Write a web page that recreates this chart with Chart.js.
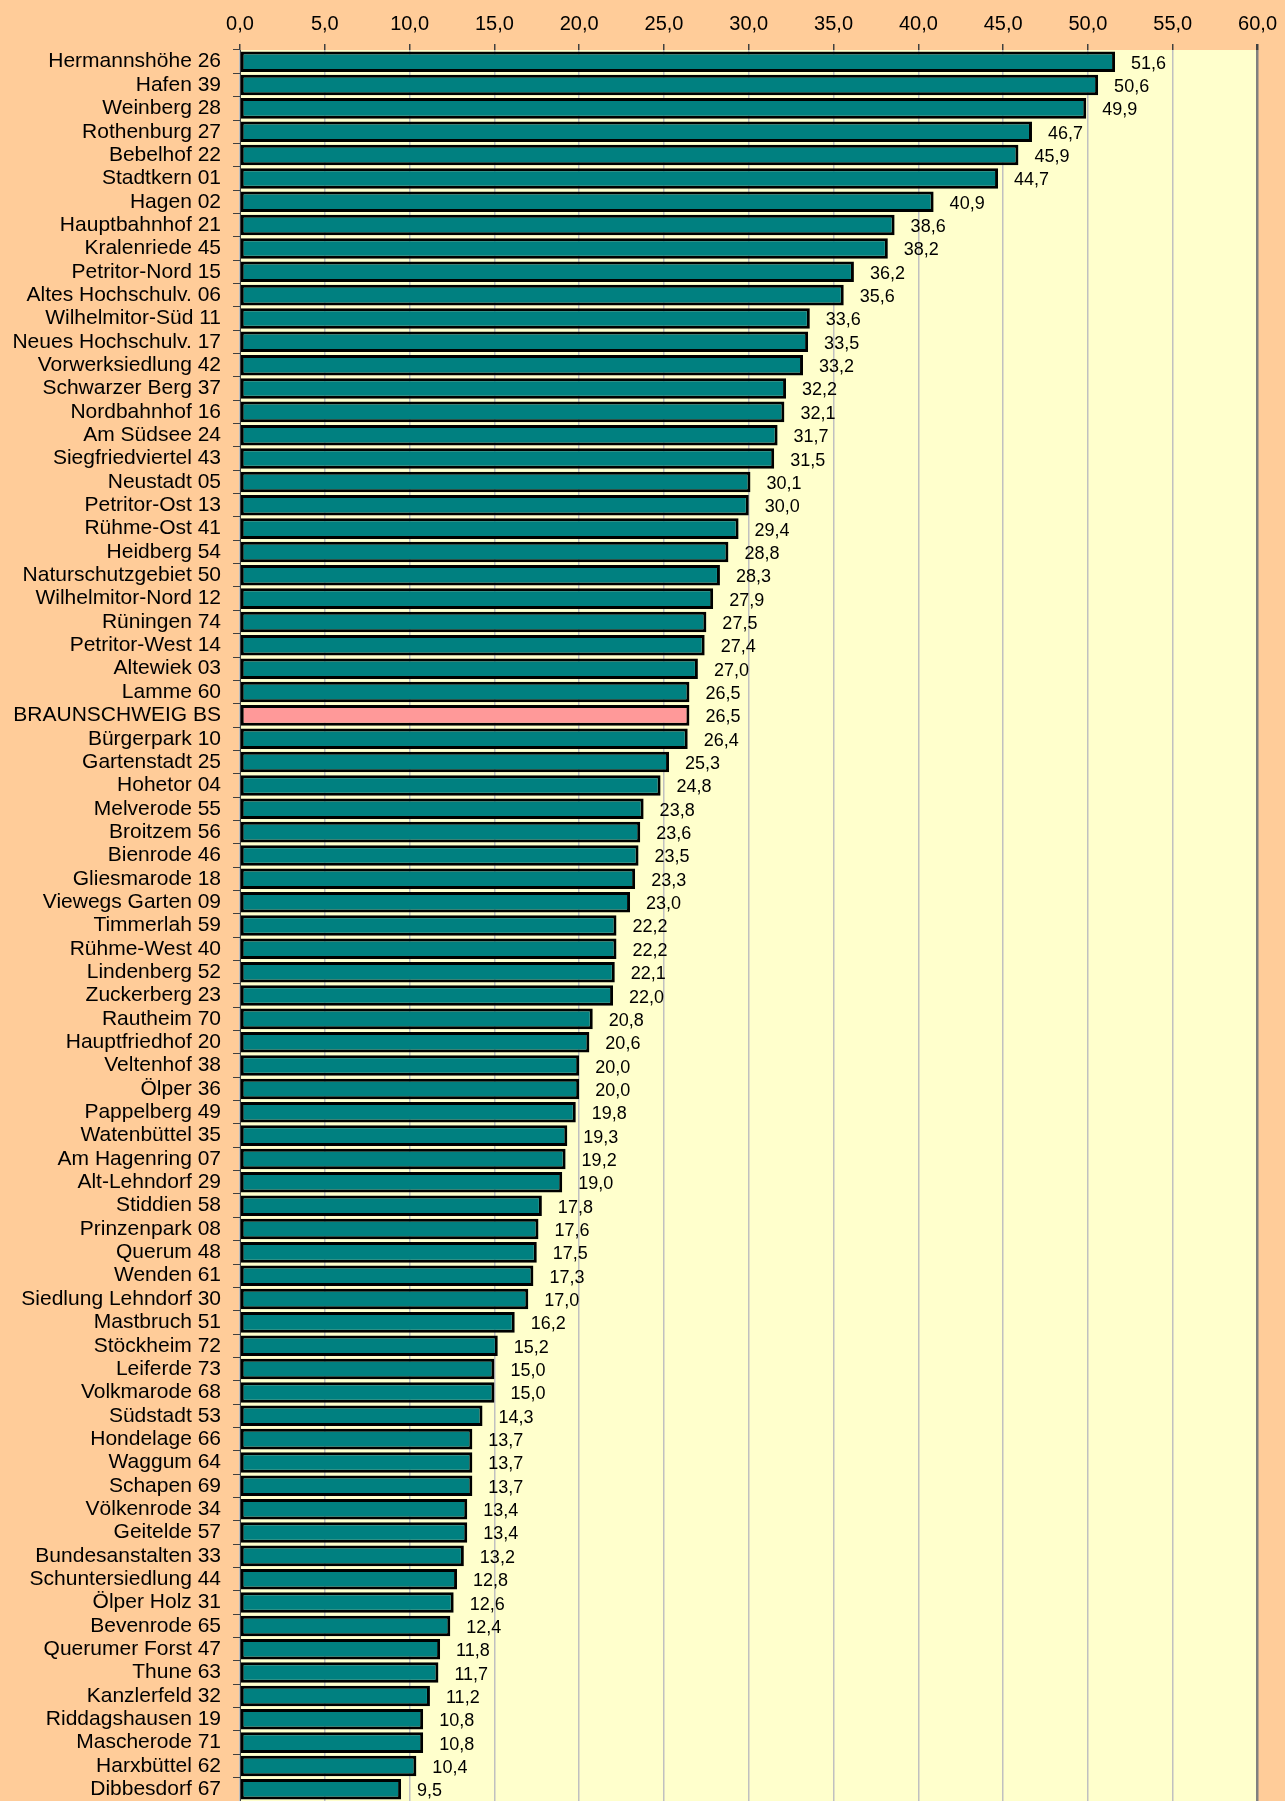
<!DOCTYPE html>
<html>
<head>
<meta charset="utf-8">
<script src="https://cdn.jsdelivr.net/npm/chart.js@4"></script>
<style>
  html, body { margin: 0; padding: 0; background: #FFCC99; overflow: hidden; }
  canvas { display: block; }
</style>
</head>
<body>
<canvas id="chart" width="1285" height="1801"></canvas>
<script>
// Stadtbezirke (Kategorien)
const districts = [
    'Hermannshöhe 26', 'Hafen 39', 'Weinberg 28', 'Rothenburg 27', 'Bebelhof 22',
    'Stadtkern 01', 'Hagen 02', 'Hauptbahnhof 21', 'Kralenriede 45', 'Petritor-Nord 15',
    'Altes Hochschulv. 06', 'Wilhelmitor-Süd 11', 'Neues Hochschulv. 17', 'Vorwerksiedlung 42', 'Schwarzer Berg 37',
    'Nordbahnhof 16', 'Am Südsee 24', 'Siegfriedviertel 43', 'Neustadt 05', 'Petritor-Ost 13',
    'Rühme-Ost 41', 'Heidberg 54', 'Naturschutzgebiet 50', 'Wilhelmitor-Nord 12', 'Rüningen 74',
    'Petritor-West 14', 'Altewiek 03', 'Lamme 60', 'BRAUNSCHWEIG BS', 'Bürgerpark 10',
    'Gartenstadt 25', 'Hohetor 04', 'Melverode 55', 'Broitzem 56', 'Bienrode 46',
    'Gliesmarode 18', 'Viewegs Garten 09', 'Timmerlah 59', 'Rühme-West 40', 'Lindenberg 52',
    'Zuckerberg 23', 'Rautheim 70', 'Hauptfriedhof 20', 'Veltenhof 38', 'Ölper 36',
    'Pappelberg 49', 'Watenbüttel 35', 'Am Hagenring 07', 'Alt-Lehndorf 29', 'Stiddien 58',
    'Prinzenpark 08', 'Querum 48', 'Wenden 61', 'Siedlung Lehndorf 30', 'Mastbruch 51',
    'Stöckheim 72', 'Leiferde 73', 'Volkmarode 68', 'Südstadt 53', 'Hondelage 66',
    'Waggum 64', 'Schapen 69', 'Völkenrode 34', 'Geitelde 57', 'Bundesanstalten 33',
    'Schuntersiedlung 44', 'Ölper Holz 31', 'Bevenrode 65', 'Querumer Forst 47', 'Thune 63',
    'Kanzlerfeld 32', 'Riddagshausen 19', 'Mascherode 71', 'Harxbüttel 62', 'Dibbesdorf 67'
];

// Werte je Bezirk
const values = [
    51.6, 50.6, 49.9, 46.7, 45.9,
    44.7, 40.9, 38.6, 38.2, 36.2,
    35.6, 33.6, 33.5, 33.2, 32.2,
    32.1, 31.7, 31.5, 30.1, 30.0,
    29.4, 28.8, 28.3, 27.9, 27.5,
    27.4, 27.0, 26.5, 26.5, 26.4,
    25.3, 24.8, 23.8, 23.6, 23.5,
    23.3, 23.0, 22.2, 22.2, 22.1,
    22.0, 20.8, 20.6, 20.0, 20.0,
    19.8, 19.3, 19.2, 19.0, 17.8,
    17.6, 17.5, 17.3, 17.0, 16.2,
    15.2, 15.0, 15.0, 14.3, 13.7,
    13.7, 13.7, 13.4, 13.4, 13.2,
    12.8, 12.6, 12.4, 11.8, 11.7,
    11.2, 10.8, 10.8, 10.4, 9.5
];

// Achse oben: 0,0 bis 60,0
const axisMin = 0;
const axisMax = 60;
const axisStep = 5;

const highlight = 'BRAUNSCHWEIG BS';

function fmt(v) {
    return v.toFixed(1).replace('.', ',');
}

// Hintergrund der Zeichenfläche
const plotBackground = {
    id: 'plotBackground',
    beforeDraw(chart) {
        const { ctx, chartArea: a } = chart;
        ctx.save();
        ctx.fillStyle = '#FFFFCC';
        ctx.fillRect(a.left, a.top, a.right - a.left, a.bottom - a.top);
        ctx.restore();
    }
};

// Wertebeschriftung rechts neben den Balken
const valueLabels = {
    id: 'valueLabels',
    afterDatasetsDraw(chart) {
        const ctx = chart.ctx;
        const meta = chart.getDatasetMeta(0);
        ctx.save();
        ctx.font = '18px "Liberation Sans", Arial, sans-serif';
        ctx.fillStyle = '#000';
        ctx.textAlign = 'left';
        ctx.textBaseline = 'middle';
        meta.data.forEach((bar, i) => {
            ctx.fillText(fmt(values[i]), bar.x + 16, bar.y + 2);
        });
        ctx.restore();
    }
};

Chart.defaults.font.family = '"Liberation Sans", Arial, sans-serif';
Chart.defaults.color = '#000';

new Chart(document.getElementById('chart').getContext('2d'), {
    type: 'bar',
    data: {
        labels: districts,
        datasets: [{
            data: values,
            backgroundColor: districts.map(d => d === highlight ? '#FF9999' : '#008080'),
            borderColor: '#000',
            borderWidth: 3,
            borderSkipped: false,
            barPercentage: 0.88,
            categoryPercentage: 1.0
        }]
    },
    options: {
        indexAxis: 'y',
        responsive: false,
        animation: false,
        devicePixelRatio: 1,
        layout: { padding: { left: 0, right: 19, top: 0, bottom: 0 } },
        plugins: {
            legend: { display: false },
            tooltip: { enabled: false }
        },
        scales: {
            x: {
                position: 'top',
                min: axisMin,
                max: axisMax,
                ticks: {
                    stepSize: axisStep,
                    font: { size: 20 },
                    padding: 8,
                    callback: v => fmt(v)
                },
                grid: {
                    color: c => c.tick && c.tick.value === axisMax ? '#808080' : '#C0C0C0',
                    lineWidth: c => c.tick && c.tick.value === axisMax ? 2.5 : 1.5,
                    tickColor: '#404040',
                    tickLength: 6
                },
                border: { display: false },
                afterFit(scale) { scale.height = 50; }
            },
            y: {
                ticks: {
                    autoSkip: false,
                    font: { size: 21 },
                    padding: 12
                },
                grid: {
                    drawOnChartArea: false,
                    tickColor: '#404040',
                    tickLength: 7
                },
                border: { color: '#404040', width: 1 },
                afterFit(scale) {
                    scale.width = 240;
                    // Fläche bis zum unteren Rand ausnutzen
                    scale.paddingTop = 0;
                    scale.paddingBottom = 0;
                }
            }
        }
    },
    plugins: [plotBackground, valueLabels]
});
</script>
</body>
</html>
